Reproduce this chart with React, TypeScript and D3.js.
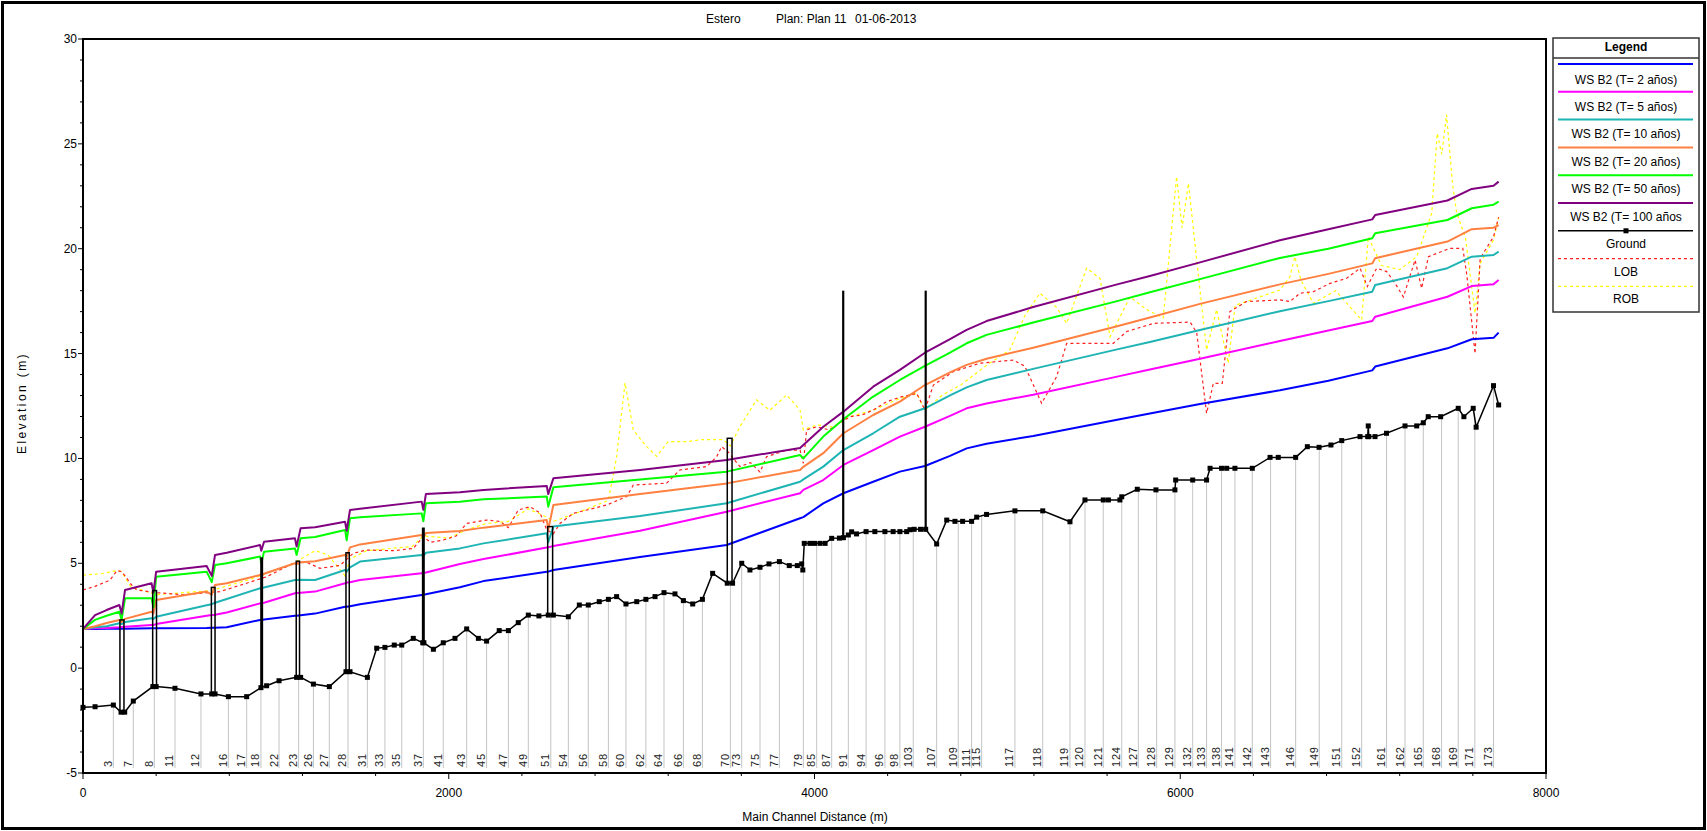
import React from "react";
import * as d3 from "d3";

// ---------------- data ----------------
const titleParts = ["Estero", "Plan: Plan 11", "01-06-2013"];
const xTickValues = [0, 2000, 4000, 6000, 8000];
const yTickValues = [-5, 0, 5, 10, 15, 20, 25, 30];
const xAxisTitle = "Main Channel Distance (m)";
const yAxisTitle = "Elevation (m)";

const groundDist = [0, 66, 166, 208, 228, 275, 382, 400, 503, 645, 704, 722, 795, 895, 973, 1004, 1072, 1168, 1190, 1260, 1347, 1438, 1460, 1555, 1606, 1651, 1702, 1743, 1806, 1858, 1864, 1916, 1970, 2034, 2098, 2162, 2207, 2276, 2326, 2380, 2435, 2493, 2544, 2572, 2654, 2714, 2763, 2823, 2873, 2918, 2969, 3028, 3078, 3128, 3177, 3237, 3283, 3334, 3387, 3443, 3523, 3552, 3602, 3647, 3702, 3751, 3808, 3862, 3906, 3930, 3936, 3944, 3975, 4000, 4030, 4058, 4094, 4136, 4158, 4185, 4203, 4230, 4282, 4330, 4385, 4430, 4467, 4504, 4522, 4545, 4580, 4608, 4668, 4723, 4768, 4810, 4859, 4887, 4941, 5096, 5248, 5397, 5479, 5579, 5607, 5670, 5680, 5765, 5867, 5971, 5975, 6068, 6144, 6163, 6226, 6254, 6299, 6394, 6491, 6536, 6631, 6695, 6759, 6824, 6883, 6983, 7025, 7028, 7031, 7065, 7128, 7229, 7293, 7329, 7356, 7424, 7520, 7551, 7602, 7618, 7713, 7741];
const groundElev = [-1.87, -1.84, -1.76, -2.1, -2.1, -1.57, -0.88, -0.88, -0.96, -1.23, -1.23, -1.23, -1.36, -1.36, -0.93, -0.84, -0.6, -0.44, -0.44, -0.76, -0.88, -0.17, -0.17, -0.44, 0.95, 0.99, 1.1, 1.1, 1.42, 1.21, 1.21, 0.9, 1.21, 1.42, 1.87, 1.42, 1.29, 1.79, 1.79, 2.17, 2.53, 2.49, 2.53, 2.53, 2.45, 3.01, 3.01, 3.17, 3.28, 3.41, 3.06, 3.17, 3.28, 3.41, 3.6, 3.54, 3.22, 3.06, 3.28, 4.52, 4.05, 4.05, 5.0, 4.68, 4.81, 4.97, 5.08, 4.89, 4.89, 4.97, 4.68, 5.95, 5.95, 5.95, 5.95, 5.95, 6.19, 6.2, 6.22, 6.35, 6.5, 6.4, 6.51, 6.51, 6.51, 6.51, 6.51, 6.51, 6.6, 6.62, 6.62, 6.62, 5.92, 7.06, 7.0, 7.0, 7.0, 7.2, 7.33, 7.5, 7.5, 6.98, 8.02, 8.02, 8.02, 8.02, 8.17, 8.53, 8.5, 8.5, 8.97, 8.97, 8.97, 9.53, 9.53, 9.53, 9.53, 9.53, 10.05, 10.05, 10.05, 10.56, 10.53, 10.64, 10.85, 11.04, 11.04, 11.55, 11.04, 11.04, 11.2, 11.55, 11.55, 11.7, 11.99, 11.99, 12.39, 11.99, 12.39, 11.49, 13.47, 12.55];

const wsDist = [0, 66, 129, 199, 211, 230, 375, 385, 400, 676, 704, 722, 786, 968, 975, 990, 1159, 1168, 1190, 1269, 1433, 1442, 1460, 1515, 1852, 1861, 1875, 2061, 2190, 2536, 2544, 2572, 3046, 3520, 3921, 3939, 4048, 4158, 4321, 4467, 4604, 4741, 4832, 4941, 5196, 5655, 5834, 6108, 6545, 6810, 7050, 7066, 7461, 7594, 7713, 7741];
const wsT2 = [1.87, 1.87, 1.88, 1.88, 1.88, 1.88, 1.9, 1.9, 1.9, 1.92, 1.93, 1.93, 1.95, 2.3, 2.3, 2.32, 2.5, 2.5, 2.52, 2.6, 2.93, 2.93, 2.95, 3.05, 3.49, 3.5, 3.52, 3.86, 4.15, 4.6, 4.6, 4.68, 5.3, 5.87, 7.15, 7.2, 7.86, 8.34, 8.89, 9.37, 9.64, 10.12, 10.48, 10.7, 11.07, 11.84, 12.14, 12.6, 13.25, 13.7, 14.2, 14.38, 15.25, 15.68, 15.75, 16.0];
const wsT5 = [1.87, 1.9, 1.92, 1.95, 1.96, 1.97, 2.06, 2.06, 2.1, 2.5, 2.53, 2.55, 2.65, 3.09, 3.1, 3.12, 3.57, 3.58, 3.6, 3.65, 4.05, 4.08, 4.1, 4.2, 4.52, 4.54, 4.56, 4.97, 5.2, 5.75, 5.76, 5.82, 6.55, 7.46, 8.34, 8.5, 8.97, 9.69, 10.4, 11.04, 11.51, 12.03, 12.39, 12.62, 13.04, 13.9, 14.24, 14.75, 15.6, 16.1, 16.55, 16.76, 17.71, 18.22, 18.3, 18.51];
const wsT10 = [1.87, 1.95, 2.0, 2.14, 2.1, 2.2, 2.38, 2.35, 2.45, 3.0, 3.05, 3.12, 3.3, 3.81, 3.8, 3.85, 4.2, 4.2, 4.22, 4.2, 4.68, 4.6, 4.8, 5.08, 5.4, 5.35, 5.5, 5.71, 5.95, 6.43, 6.0, 6.75, 7.25, 7.86, 8.89, 9.0, 9.61, 10.4, 11.2, 11.99, 12.39, 13.01, 13.39, 13.74, 14.27, 15.2, 15.55, 16.12, 17.02, 17.5, 17.95, 18.27, 19.07, 19.62, 19.7, 19.86];
const wsT20 = [1.87, 2.0, 2.15, 2.3, 2.2, 2.35, 2.69, 2.6, 3.25, 3.65, 3.5, 3.97, 4.05, 4.44, 4.4, 4.5, 5.0, 4.95, 5.05, 5.1, 5.4, 5.3, 5.76, 5.9, 6.35, 6.2, 6.45, 6.54, 6.7, 7.06, 6.6, 7.78, 8.3, 8.81, 9.45, 9.6, 10.25, 11.2, 12.07, 12.71, 13.5, 14.1, 14.46, 14.75, 15.28, 16.3, 16.72, 17.37, 18.3, 18.8, 19.3, 19.55, 20.34, 20.93, 21.0, 21.13];
const wsT50 = [1.87, 2.3, 2.5, 2.69, 2.3, 3.33, 3.33, 2.9, 4.36, 4.6, 4.1, 4.92, 5.0, 5.32, 5.0, 5.55, 5.71, 5.4, 6.19, 6.25, 6.59, 6.1, 7.15, 7.2, 7.38, 7.0, 7.86, 7.94, 8.05, 8.18, 7.7, 8.62, 9.0, 9.37, 10.16, 10.0, 11.04, 11.87, 12.95, 13.74, 14.41, 15.05, 15.49, 15.89, 16.48, 17.5, 17.92, 18.55, 19.56, 20.0, 20.5, 20.74, 21.37, 21.93, 22.1, 22.24];
const wsT100 = [1.87, 2.53, 2.77, 3.01, 2.6, 3.73, 4.05, 3.6, 4.6, 4.87, 4.4, 5.4, 5.5, 5.87, 5.6, 6.03, 6.19, 5.8, 6.67, 6.72, 6.98, 6.55, 7.54, 7.6, 7.94, 7.55, 8.3, 8.39, 8.5, 8.69, 8.3, 9.05, 9.45, 9.93, 10.5, 10.64, 11.51, 12.23, 13.42, 14.22, 15.04, 15.69, 16.13, 16.55, 17.22, 18.3, 18.7, 19.35, 20.4, 20.93, 21.4, 21.61, 22.3, 22.85, 23.0, 23.2];

const lobDist = [0, 66, 148, 185, 211, 239, 257, 293, 400, 550, 749, 895, 1004, 1150, 1223, 1296, 1406, 1478, 1551, 1700, 1806, 1861, 1900, 1970, 2040, 2098, 2207, 2280, 2326, 2380, 2444, 2499, 2536, 2572, 2608, 2681, 2864, 2973, 3009, 3191, 3264, 3410, 3465, 3492, 3529, 3592, 3650, 3702, 3738, 3848, 3921, 3939, 3957, 4012, 4080, 4139, 4194, 4260, 4322, 4395, 4480, 4559, 4604, 4650, 4759, 4905, 5087, 5150, 5242, 5324, 5379, 5634, 5707, 5853, 6054, 6090, 6144, 6181, 6230, 6271, 6362, 6545, 6600, 6655, 6728, 6819, 6910, 6983, 7023, 7074, 7129, 7175, 7220, 7284, 7320, 7357, 7475, 7545, 7567, 7612, 7640, 7713, 7741];
const lobElev = [3.73, 3.9, 4.2, 4.65, 4.6, 4.3, 4.05, 3.73, 3.6, 3.5, 3.65, 4.05, 4.36, 5.0, 5.05, 4.76, 4.9, 5.48, 5.63, 5.6, 5.71, 6.27, 6.0, 6.11, 6.3, 6.9, 7.06, 7.0, 6.7, 7.54, 7.7, 7.4, 6.6, 6.4, 6.9, 7.38, 7.78, 8.18, 8.73, 8.82, 9.45, 9.61, 10.08, 10.56, 10.3, 9.61, 9.8, 9.35, 10.08, 10.4, 10.4, 9.77, 11.36, 11.51, 11.36, 11.7, 11.99, 12.07, 12.31, 12.71, 12.95, 13.1, 12.31, 13.5, 14.14, 14.54, 14.69, 14.4, 12.63, 13.9, 15.49, 15.49, 16.05, 16.44, 16.5, 16.0, 12.15, 13.58, 13.58, 17.0, 17.48, 17.56, 17.48, 17.88, 17.95, 18.35, 18.59, 19.07, 18.2, 19.07, 18.91, 18.35, 17.7, 19.46, 18.11, 19.62, 20.02, 20.02, 18.75, 15.0, 19.54, 20.57, 21.5];

const robDist = [0, 100, 185, 211, 260, 400, 700, 900, 1000, 1150, 1270, 1340, 1433, 1460, 1550, 1800, 1861, 2000, 2098, 2207, 2326, 2435, 2536, 2572, 2700, 2873, 2918, 2964, 3009, 3078, 3137, 3200, 3300, 3387, 3500, 3540, 3592, 3683, 3756, 3848, 3921, 3939, 4012, 4100, 4194, 4322, 4450, 4559, 4604, 4700, 4800, 4950, 5068, 5150, 5233, 5324, 5379, 5488, 5561, 5616, 5725, 5816, 5907, 5980, 6010, 6045, 6090, 6144, 6199, 6262, 6300, 6400, 6545, 6600, 6627, 6660, 6728, 6850, 6992, 7028, 7100, 7200, 7293, 7375, 7405, 7430, 7456, 7490, 7512, 7560, 7612, 7640, 7713, 7741];
const robElev = [4.44, 4.5, 4.65, 4.6, 3.9, 3.5, 3.7, 4.2, 4.5, 5.0, 5.6, 5.4, 4.4, 5.2, 5.6, 5.8, 6.3, 6.2, 6.6, 6.9, 7.0, 7.6, 7.2, 7.0, 7.4, 8.0, 10.08, 13.6, 11.36, 10.6, 10.1, 10.8, 10.8, 10.9, 10.9, 10.6, 11.51, 12.79, 12.3, 13.03, 12.3, 11.36, 11.6, 11.5, 12.0, 12.3, 12.8, 13.1, 12.31, 13.03, 13.5, 14.5, 15.17, 16.8, 17.88, 17.2, 16.44, 19.07, 18.59, 15.8, 17.7, 17.1, 16.7, 23.44, 21.0, 23.12, 19.46, 15.17, 17.1, 14.54, 17.3, 17.6, 18.03, 18.67, 19.62, 18.5, 17.4, 18.0, 16.6, 20.57, 19.2, 19.0, 19.62, 21.69, 25.5, 24.5, 26.4, 23.0, 21.7, 20.5, 16.92, 19.3, 20.42, 21.5];

const bridgeStart = [202, 381, 702, 973, 1166, 1438, 1857, 2541, 3523, 4157, 4608];
const bridgeEnd = [224, 402, 722, 981, 1184, 1456, 1865, 2568, 3549, 4157, 4608];
const bridgeTop = [2.3, 3.7, 3.85, 5.25, 5.1, 5.5, 6.67, 6.75, 10.96, 18.0, 18.0];

const stationLabels = ["3", "7", "8", "11", "12", "16", "17", "18", "22", "23", "26", "27", "28", "31", "33", "35", "37", "41", "43", "45", "47", "49", "51", "54", "56", "58", "60", "62", "64", "66", "68", "70", "73", "75", "77", "79", "85", "87", "91", "94", "96", "98", "103", "107", "109", "111", "115", "117", "118", "119", "120", "121", "124", "127", "128", "129", "132", "133", "138", "141", "142", "143", "146", "149", "151", "152", "161", "162", "165", "168", "169", "171", "173"];
const stationDist = [166, 275, 390, 503, 645, 795, 895, 973, 1072, 1179, 1260, 1347, 1449, 1555, 1651, 1743, 1861, 1970, 2098, 2207, 2326, 2435, 2558, 2654, 2763, 2873, 2969, 3078, 3177, 3283, 3387, 3540, 3602, 3702, 3808, 3939, 4012, 4094, 4185, 4282, 4385, 4467, 4540, 4668, 4786, 4859, 4914, 5096, 5248, 5397, 5479, 5579, 5680, 5771, 5871, 5971, 6068, 6144, 6226, 6299, 6394, 6494, 6631, 6760, 6883, 6992, 7128, 7229, 7329, 7429, 7520, 7611, 7713];

const profileNames = ["WS B2 (T= 2 años)", "WS B2 (T= 5 años)", "WS B2 (T= 10 años)", "WS B2 (T= 20 años)", "WS B2 (T= 50 años)", "WS B2 (T= 100 años"];
const otherNames = ["Ground", "LOB", "ROB"];
const legendTitle = "Legend";

// ---------------- styles ----------------
const profileColors = ["#0000ff", "#ff00ff", "#1fb4b4", "#ff8040", "#00ff00", "#800080"];
const FONT = "'Liberation Sans', Arial, sans-serif";

export default function App() {
  const x = d3.scaleLinear().domain([0, 8000]).range([83, 1546]);
  const y = d3.scaleLinear().domain([-5, 30]).range([773, 39]);
  const line = d3.line<number[]>().x((p) => x(p[0])).y((p) => y(p[1]));
  const zip = (a: number[], b: number[]) => a.map((v, i) => [v, b[i]]);

  const groundAt = (d: number) => {
    const i = d3.bisectLeft(groundDist, d);
    if (i <= 0) return groundElev[0];
    if (i >= groundDist.length) return groundElev[groundElev.length - 1];
    const d0 = groundDist[i - 1], d1 = groundDist[i];
    const t = d1 === d0 ? 0 : (d - d0) / (d1 - d0);
    return groundElev[i - 1] + t * (groundElev[i] - groundElev[i - 1]);
  };

  const profiles = [wsT2, wsT5, wsT10, wsT20, wsT50, wsT100];
  const xMinor = d3.range(0, 8001, 400);
  const yMinor = d3.range(-5, 31, 1);
  const bottomY = y(-5);
  const labelBase = bottomY - 6;

  // legend geometry
  const lgX0 = 1553, lgX1 = 1699, lgY0 = 38, lgY1 = 312;
  const lgLineY = (i: number) => 64 + i * 27.8;
  const lgTextY = (i: number) => 83.5 + i * 27.45;
  const lgCx = (lgX0 + lgX1) / 2;

  return (
    <svg width={1707} height={831} style={{ position: "absolute", left: 0, top: 0 }} fontFamily={FONT}>
      <rect x={0} y={0} width={1707} height={831} fill="#ffffff" />
      <rect x={2.5} y={2.5} width={1702} height={826} fill="none" stroke="#000" strokeWidth={3} />

      {/* title */}
      <g fontSize={12} fill="#000">
        <text x={706} y={23}>{titleParts[0]}</text>
        <text x={776} y={23}>{titleParts[1]}</text>
        <text x={855} y={23}>{titleParts[2]}</text>
      </g>

      {/* station lines */}
      <g stroke="#c4c4c4" strokeWidth={1}>
        {stationDist.map((d, i) => (
          <line key={i} x1={x(d)} x2={x(d)} y1={y(groundAt(d))} y2={labelBase + 1} />
        ))}
      </g>
      <g fontSize={11} fill="#222" letterSpacing={0.8}>
        {stationDist.map((d, i) => (
          <text key={i} transform={`translate(${x(d) - 1.5},${labelBase}) rotate(-90)`}>{stationLabels[i]}</text>
        ))}
      </g>

      {/* ROB & LOB */}
      <path d={line(zip(robDist, robElev)) || ""} fill="none" stroke="#ffff00" strokeWidth={1.2} strokeDasharray="3,3" />
      <path d={line(zip(lobDist, lobElev)) || ""} fill="none" stroke="#ff2020" strokeWidth={1.2} strokeDasharray="3,3" />

      {/* water surfaces */}
      {profiles.map((p, i) => (
        <path key={i} d={line(zip(wsDist, p)) || ""} fill="none" stroke={profileColors[i]} strokeWidth={2} strokeLinejoin="round" />
      ))}

      {/* bridges */}
      <g stroke="#000" fill="none">
        {bridgeStart.map((b, i) => {
          const x0 = x(b), x1 = x(bridgeEnd[i]);
          const yt = y(bridgeTop[i]);
          const yb = y(Math.min(groundAt(b), groundAt(bridgeEnd[i])));
          if (x1 - x0 < 1) {
            return <line key={i} x1={x0} x2={x0} y1={yt} y2={yb} strokeWidth={2.2} />;
          }
          return <rect key={i} x={x0} y={yt} width={x1 - x0} height={yb - yt} strokeWidth={1.5} />;
        })}
      </g>

      {/* ground */}
      <path d={line(zip(groundDist, groundElev)) || ""} fill="none" stroke="#000" strokeWidth={1.5} />
      <g fill="#000">
        {groundDist.map((d, i) => (
          <rect key={i} x={x(d) - 2.5} y={y(groundElev[i]) - 2.5} width={5} height={5} />
        ))}
      </g>

      {/* plot frame */}
      <rect x={x(0)} y={y(30)} width={x(8000) - x(0)} height={y(-5) - y(30)} fill="none" stroke="#000" strokeWidth={2} />

      {/* ticks */}
      <g stroke="#000" strokeWidth={1}>
        {xMinor.map((v) => (
          <line key={v} x1={x(v)} x2={x(v)} y1={bottomY} y2={bottomY + (v % 2000 === 0 ? 6 : 3)} />
        ))}
        {yMinor.map((v) => (
          <line key={v} x1={x(0)} x2={x(0) - (v % 5 === 0 ? 5 : 3)} y1={y(v)} y2={y(v)} />
        ))}
      </g>
      <g fontSize={12} fill="#000">
        {xTickValues.map((v) => (
          <text key={v} x={x(v)} y={797} textAnchor="middle">{v}</text>
        ))}
        {yTickValues.map((v) => (
          <text key={v} x={x(0) - 6} y={y(v) + 4} textAnchor="end">{v}</text>
        ))}
      </g>
      <text x={815} y={821} fontSize={12} textAnchor="middle" fill="#000">{xAxisTitle}</text>
      <text transform={`translate(26,403) rotate(-90)`} fontSize={12} letterSpacing={2.4} textAnchor="middle" fill="#000">{yAxisTitle}</text>

      {/* legend */}
      <rect x={lgX0} y={lgY0} width={lgX1 - lgX0} height={lgY1 - lgY0} fill="#fff" stroke="#333" strokeWidth={1.5} />
      <text x={lgCx} y={51} fontSize={12} fontWeight="bold" textAnchor="middle">{legendTitle}</text>
      <line x1={lgX0} x2={lgX1} y1={58} y2={58} stroke="#333" strokeWidth={1.5} />
      {profileNames.map((n, i) => (
        <g key={n}>
          <line x1={1558} x2={1693} y1={lgLineY(i)} y2={lgLineY(i)} stroke={profileColors[i]} strokeWidth={2} />
          <text x={lgCx} y={lgTextY(i)} fontSize={12} textAnchor="middle">{n}</text>
        </g>
      ))}
      <line x1={1558} x2={1693} y1={lgLineY(6)} y2={lgLineY(6)} stroke="#000" strokeWidth={1.5} />
      <rect x={lgCx - 2.5} y={lgLineY(6) - 2.5} width={5} height={5} fill="#000" />
      <text x={lgCx} y={lgTextY(6)} fontSize={12} textAnchor="middle">{otherNames[0]}</text>
      <line x1={1558} x2={1693} y1={lgLineY(7)} y2={lgLineY(7)} stroke="#ff2020" strokeWidth={1.2} strokeDasharray="3,3" />
      <text x={lgCx} y={lgTextY(7)} fontSize={12} textAnchor="middle">{otherNames[1]}</text>
      <line x1={1558} x2={1693} y1={lgLineY(8)} y2={lgLineY(8)} stroke="#ffff00" strokeWidth={1.2} strokeDasharray="3,3" />
      <text x={lgCx} y={lgTextY(8)} fontSize={12} textAnchor="middle">{otherNames[2]}</text>
    </svg>
  );
}
